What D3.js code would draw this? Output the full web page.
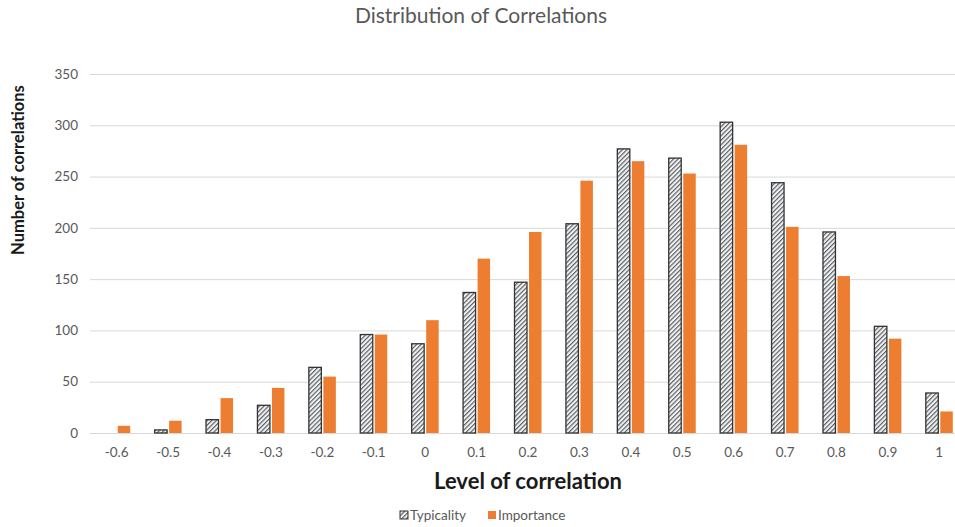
<!DOCTYPE html>
<html>
<head>
<meta charset="utf-8">
<script src="https://cdn.jsdelivr.net/npm/d3@7"></script>
<style>
  body { margin: 0; background: #fff; }
  svg { display: block; font-family: Lato, "Open Sans", sans-serif; }
</style>
</head>
<body>
<svg id="chart" width="955" height="527"></svg>
<script>
// data
const categories = ["-0.6", "-0.5", "-0.4", "-0.3", "-0.2", "-0.1", "0", "0.1", "0.2", "0.3", "0.4", "0.5", "0.6", "0.7", "0.8", "0.9", "1"];
const typicality = [0, 3, 13, 27, 64, 96, 87, 137, 147, 204, 277, 268, 303, 244, 196, 104, 39];
const importance = [7, 12, 34, 44, 55, 96, 110, 170, 196, 246, 265, 253, 281, 201, 153, 92, 21];
const seriesNames = ["Typicality", "Importance"];
const yTicks = [0, 50, 100, 150, 200, 250, 300, 350];

const svg = d3.select("#chart");
const W = 955, H = 527;
const pLeft = 91, pRight = 965, pTop = 74, pBottom = 433;
const grey = "#595959";
const orange = "#ED7D31";

// hatch for typicality
const defs = svg.append("defs");
const pat = defs.append("pattern")
  .attr("id", "hatch")
  .attr("patternUnits", "userSpaceOnUse")
  .attr("width", 3.2)
  .attr("height", 3.2)
  .attr("patternTransform", "rotate(45)");
pat.append("rect").attr("width", 3.2).attr("height", 3.2).attr("fill", "#eef2f6");
pat.append("line").attr("x1", 0.6).attr("x2", 0.6).attr("y1", 0).attr("y2", 3.2)
  .attr("stroke", "#555").attr("stroke-width", 1.1);

const x0 = d3.scaleBand().domain(categories).range([pLeft, pRight])
  .paddingInner(0.475).paddingOuter(0.2375);
const x1 = d3.scaleBand().domain(seriesNames).range([0, x0.bandwidth()]).paddingInner(0.14);
const y = d3.scaleLinear().domain([0, 350]).range([pBottom, pTop]);

// gridlines
svg.append("g").selectAll("line")
  .data(yTicks).enter().append("line")
  .attr("x1", 90).attr("x2", W)
  .attr("y1", d => y(d) + 0.5).attr("y2", d => y(d) + 0.5)
  .attr("stroke", "#d9d9d9").attr("stroke-width", 1);

// y tick labels
svg.append("g").selectAll("text")
  .data(yTicks).enter().append("text")
  .attr("x", 78).attr("y", d => y(d))
  .attr("dy", "0.35em")
  .attr("text-anchor", "end")
  .attr("fill", grey)
  .attr("font-size", "13.5px")
  .text(d => d);

// bars
const rows = categories.map((c, i) => ({cat: c, vals: [typicality[i], importance[i]]}));
const groups = svg.append("g").selectAll("g")
  .data(rows).enter().append("g")
  .attr("transform", d => `translate(${x0(d.cat)},0)`);

groups.selectAll("rect")
  .data(d => d.vals.map((v, k) => ({name: seriesNames[k], v: v})))
  .enter().append("rect")
  .filter(d => d.v > 0)
  .attr("x", d => x1(d.name))
  .attr("width", x1.bandwidth())
  .attr("y", d => y(d.v))
  .attr("height", d => pBottom - y(d.v))
  .attr("fill", d => d.name == "Typicality" ? "url(#hatch)" : orange)
  .attr("stroke", d => d.name == "Typicality" ? "#333" : "none")
  .attr("stroke-width", 1.3);

// x tick labels
svg.append("g").selectAll("text")
  .data(categories).enter().append("text")
  .attr("x", d => x0(d) + x0.bandwidth() / 2)
  .attr("y", 457)
  .attr("text-anchor", "middle")
  .attr("fill", grey)
  .attr("font-size", "13.5px")
  .text(d => d);

// title
svg.append("text")
  .attr("x", 481).attr("y", 23)
  .attr("text-anchor", "middle")
  .attr("fill", grey)
  .attr("font-size", "21px")
  .text("Distribution of Correlations");

// axis titles
svg.append("text")
  .attr("x", 528).attr("y", 489)
  .attr("text-anchor", "middle")
  .attr("fill", "#1a1a1a")
  .attr("font-size", "22px")
  .attr("font-weight", "bold")
  .text("Level of correlation");

svg.append("text")
  .attr("transform", "translate(24,170) rotate(-90)")
  .attr("text-anchor", "middle")
  .attr("fill", "#1a1a1a")
  .attr("font-size", "16.5px")
  .attr("font-weight", "bold")
  .text("Number of correlations");

// legend
const legend = svg.append("g").attr("transform", "translate(396,510)");
const items = [{name: "Typicality", fill: "url(#hatch)", stroke: "#333", x: 0},
               {name: "Importance", fill: orange, stroke: "none", x: 88}];
const li = legend.selectAll("g").data(items).enter().append("g")
  .attr("transform", d => `translate(${d.x},0)`);
li.append("rect")
  .attr("x", 4).attr("y", 1).attr("width", 8).attr("height", 8)
  .attr("fill", d => d.fill).attr("stroke", d => d.stroke).attr("stroke-width", 1);
li.append("text")
  .attr("x", 14).attr("y", 5).attr("dy", "0.35em")
  .attr("fill", grey)
  .attr("font-size", "13.5px")
  .text(d => d.name);
</script>
</body>
</html>
